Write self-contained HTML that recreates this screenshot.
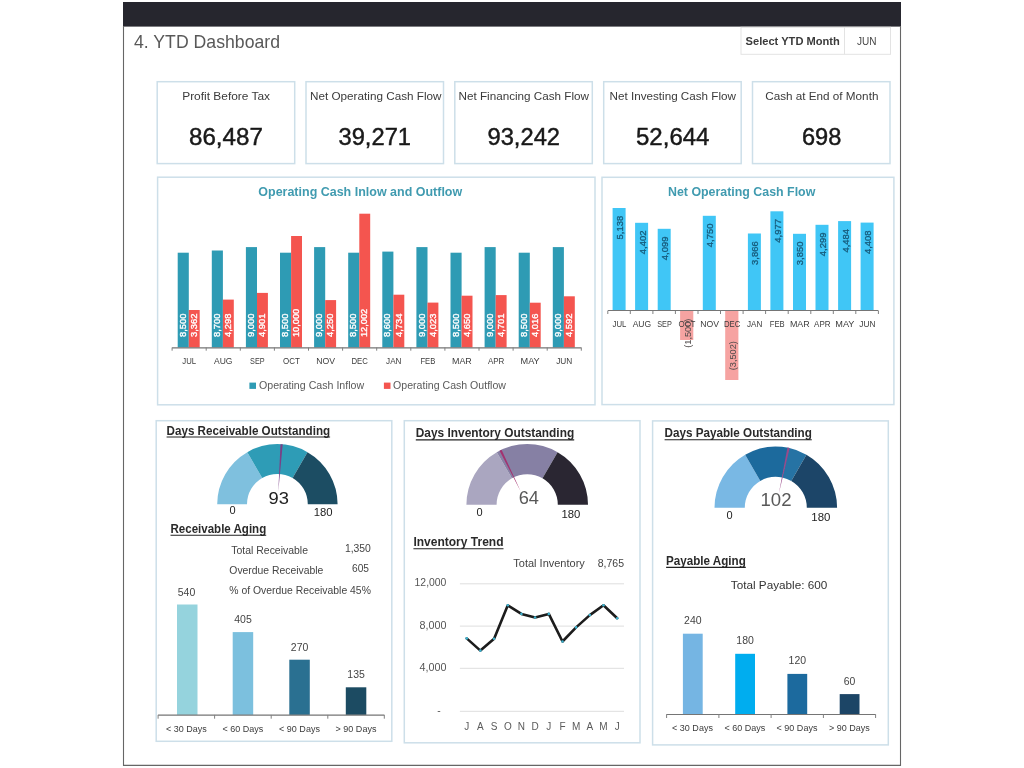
<!DOCTYPE html>
<html><head><meta charset="utf-8"><title>4. YTD Dashboard</title>
<style>
html,body{margin:0;padding:0;background:#fff;}
body{width:1024px;height:768px;overflow:hidden;font-family:"Liberation Sans",sans-serif;}
svg{display:block;font-family:"Liberation Sans",sans-serif;}
</style></head><body>
<svg width="1024" height="768" viewBox="0 0 1024 768">
<defs><filter id="soft" x="0" y="0" width="1024" height="768" filterUnits="userSpaceOnUse"><feGaussianBlur stdDeviation="0.5"/></filter></defs>
<g filter="url(#soft)">
<rect x="123.0" y="2.0" width="778.0" height="24.6" fill="#27262e" />
<line x1="123.5" y1="26.0" x2="123.5" y2="766.0" stroke="#666" stroke-width="1.1" />
<line x1="900.5" y1="26.0" x2="900.5" y2="766.0" stroke="#666" stroke-width="1.1" />
<line x1="123.0" y1="765.4" x2="901.0" y2="765.4" stroke="#666" stroke-width="1.1" />
<text x="134.0" y="48.4" font-size="17.8" fill="#595959" textLength="146.0" lengthAdjust="spacingAndGlyphs" >4. YTD Dashboard</text>
<rect x="741.0" y="27.3" width="149.5" height="27.0" fill="#fff" stroke="#e3e3e3" stroke-width="1"/>
<line x1="844.5" y1="27.3" x2="844.5" y2="54.3" stroke="#e3e3e3" stroke-width="1" />
<text x="745.6" y="45.1" font-size="11.6" font-weight="bold" fill="#3a3a3a" textLength="94.2" lengthAdjust="spacingAndGlyphs" >Select YTD Month</text>
<text x="857.0" y="44.9" font-size="11" fill="#444" textLength="19.5" lengthAdjust="spacingAndGlyphs" >JUN</text>
<rect x="157.2" y="81.7" width="137.5" height="81.9" fill="#fff" stroke="#cddfe9" stroke-width="1.5"/>
<text x="182.2" y="100.2" font-size="11.6" fill="#3a3a3a" textLength="87.9" lengthAdjust="spacingAndGlyphs" >Profit Before Tax</text>
<text x="189.0" y="145.4" font-size="23.5" fill="#1a1a1a" textLength="73.9" lengthAdjust="spacingAndGlyphs" stroke="#1a1a1a" stroke-width="0.45">86,487</text>
<rect x="306.0" y="81.7" width="137.5" height="81.9" fill="#fff" stroke="#cddfe9" stroke-width="1.5"/>
<text x="310.0" y="100.2" font-size="11.6" fill="#3a3a3a" textLength="131.5" lengthAdjust="spacingAndGlyphs" >Net Operating Cash Flow</text>
<text x="338.5" y="145.4" font-size="23.5" fill="#1a1a1a" textLength="72.5" lengthAdjust="spacingAndGlyphs" stroke="#1a1a1a" stroke-width="0.45">39,271</text>
<rect x="454.8" y="81.7" width="137.5" height="81.9" fill="#fff" stroke="#cddfe9" stroke-width="1.5"/>
<text x="458.5" y="100.2" font-size="11.6" fill="#3a3a3a" textLength="130.5" lengthAdjust="spacingAndGlyphs" >Net Financing Cash Flow</text>
<text x="487.5" y="145.4" font-size="23.5" fill="#1a1a1a" textLength="72.5" lengthAdjust="spacingAndGlyphs" stroke="#1a1a1a" stroke-width="0.45">93,242</text>
<rect x="603.7" y="81.7" width="137.5" height="81.9" fill="#fff" stroke="#cddfe9" stroke-width="1.5"/>
<text x="609.5" y="100.2" font-size="11.6" fill="#3a3a3a" textLength="126.5" lengthAdjust="spacingAndGlyphs" >Net Investing Cash Flow</text>
<text x="636.0" y="145.4" font-size="23.5" fill="#1a1a1a" textLength="73.5" lengthAdjust="spacingAndGlyphs" stroke="#1a1a1a" stroke-width="0.45">52,644</text>
<rect x="752.5" y="81.7" width="137.5" height="81.9" fill="#fff" stroke="#cddfe9" stroke-width="1.5"/>
<text x="765.2" y="100.2" font-size="11.6" fill="#3a3a3a" textLength="113.2" lengthAdjust="spacingAndGlyphs" >Cash at End of Month</text>
<text x="801.9" y="145.4" font-size="23.5" fill="#1a1a1a" textLength="39.4" lengthAdjust="spacingAndGlyphs" stroke="#1a1a1a" stroke-width="0.45">698</text>
<rect x="157.6" y="177.2" width="437.4" height="227.6" fill="#fff" stroke="#cddfe9" stroke-width="1.5"/>
<text x="258.3" y="196.1" font-size="13" font-weight="bold" fill="#419bb0" textLength="203.9" lengthAdjust="spacingAndGlyphs" >Operating Cash Inlow and Outflow</text>
<rect x="177.7" y="252.7" width="11.1" height="94.8" fill="#2f9bb4" />
<rect x="188.8" y="310.0" width="10.9" height="37.5" fill="#f4544f" />
<text transform="translate(185.8,325.3) rotate(-90)" font-size="9.3" fill="#fff" text-anchor="middle" textLength="23.4" lengthAdjust="spacingAndGlyphs" stroke="#fff" stroke-width="0.35">8,500</text>
<text transform="translate(196.9,325.3) rotate(-90)" font-size="9.3" fill="#fff" text-anchor="middle" textLength="23.4" lengthAdjust="spacingAndGlyphs" stroke="#fff" stroke-width="0.35">3,362</text>
<text x="189.2" y="363.6" font-size="9.7" fill="#3c3c3c" text-anchor="middle" textLength="13.8" lengthAdjust="spacingAndGlyphs" >JUL</text>
<rect x="211.8" y="250.5" width="11.1" height="97.0" fill="#2f9bb4" />
<rect x="222.9" y="299.6" width="10.9" height="47.9" fill="#f4544f" />
<text transform="translate(219.9,325.3) rotate(-90)" font-size="9.3" fill="#fff" text-anchor="middle" textLength="23.4" lengthAdjust="spacingAndGlyphs" stroke="#fff" stroke-width="0.35">8,700</text>
<text transform="translate(231.0,325.3) rotate(-90)" font-size="9.3" fill="#fff" text-anchor="middle" textLength="23.4" lengthAdjust="spacingAndGlyphs" stroke="#fff" stroke-width="0.35">4,298</text>
<text x="223.2" y="363.6" font-size="9.7" fill="#3c3c3c" text-anchor="middle" textLength="18.5" lengthAdjust="spacingAndGlyphs" >AUG</text>
<rect x="245.9" y="247.1" width="11.1" height="100.4" fill="#2f9bb4" />
<rect x="257.0" y="292.9" width="10.9" height="54.6" fill="#f4544f" />
<text transform="translate(254.0,325.3) rotate(-90)" font-size="9.3" fill="#fff" text-anchor="middle" textLength="23.4" lengthAdjust="spacingAndGlyphs" stroke="#fff" stroke-width="0.35">9,000</text>
<text transform="translate(265.1,325.3) rotate(-90)" font-size="9.3" fill="#fff" text-anchor="middle" textLength="23.4" lengthAdjust="spacingAndGlyphs" stroke="#fff" stroke-width="0.35">4,901</text>
<text x="257.4" y="363.6" font-size="9.7" fill="#3c3c3c" text-anchor="middle" textLength="14.6" lengthAdjust="spacingAndGlyphs" >SEP</text>
<rect x="280.0" y="252.7" width="11.1" height="94.8" fill="#2f9bb4" />
<rect x="291.1" y="236.0" width="10.9" height="111.5" fill="#f4544f" />
<text transform="translate(288.1,325.3) rotate(-90)" font-size="9.3" fill="#fff" text-anchor="middle" textLength="23.4" lengthAdjust="spacingAndGlyphs" stroke="#fff" stroke-width="0.35">8,500</text>
<text transform="translate(299.2,322.9) rotate(-90)" font-size="9.3" fill="#fff" text-anchor="middle" textLength="28.3" lengthAdjust="spacingAndGlyphs" stroke="#fff" stroke-width="0.35">10,000</text>
<text x="291.4" y="363.6" font-size="9.7" fill="#3c3c3c" text-anchor="middle" textLength="16.8" lengthAdjust="spacingAndGlyphs" >OCT</text>
<rect x="314.1" y="247.1" width="11.1" height="100.4" fill="#2f9bb4" />
<rect x="325.2" y="300.1" width="10.9" height="47.4" fill="#f4544f" />
<text transform="translate(322.2,325.3) rotate(-90)" font-size="9.3" fill="#fff" text-anchor="middle" textLength="23.4" lengthAdjust="spacingAndGlyphs" stroke="#fff" stroke-width="0.35">9,000</text>
<text transform="translate(333.3,325.3) rotate(-90)" font-size="9.3" fill="#fff" text-anchor="middle" textLength="23.4" lengthAdjust="spacingAndGlyphs" stroke="#fff" stroke-width="0.35">4,250</text>
<text x="325.6" y="363.6" font-size="9.7" fill="#3c3c3c" text-anchor="middle" textLength="18.8" lengthAdjust="spacingAndGlyphs" >NOV</text>
<rect x="348.2" y="252.7" width="11.1" height="94.8" fill="#2f9bb4" />
<rect x="359.3" y="213.7" width="10.9" height="133.8" fill="#f4544f" />
<text transform="translate(356.3,325.3) rotate(-90)" font-size="9.3" fill="#fff" text-anchor="middle" textLength="23.4" lengthAdjust="spacingAndGlyphs" stroke="#fff" stroke-width="0.35">8,500</text>
<text transform="translate(367.4,322.9) rotate(-90)" font-size="9.3" fill="#fff" text-anchor="middle" textLength="28.3" lengthAdjust="spacingAndGlyphs" stroke="#fff" stroke-width="0.35">12,002</text>
<text x="359.7" y="363.6" font-size="9.7" fill="#3c3c3c" text-anchor="middle" textLength="16.4" lengthAdjust="spacingAndGlyphs" >DEC</text>
<rect x="382.3" y="251.6" width="11.1" height="95.9" fill="#2f9bb4" />
<rect x="393.4" y="294.7" width="10.9" height="52.8" fill="#f4544f" />
<text transform="translate(390.4,325.3) rotate(-90)" font-size="9.3" fill="#fff" text-anchor="middle" textLength="23.4" lengthAdjust="spacingAndGlyphs" stroke="#fff" stroke-width="0.35">8,600</text>
<text transform="translate(401.5,325.3) rotate(-90)" font-size="9.3" fill="#fff" text-anchor="middle" textLength="23.4" lengthAdjust="spacingAndGlyphs" stroke="#fff" stroke-width="0.35">4,734</text>
<text x="393.8" y="363.6" font-size="9.7" fill="#3c3c3c" text-anchor="middle" textLength="15.4" lengthAdjust="spacingAndGlyphs" >JAN</text>
<rect x="416.4" y="247.1" width="11.1" height="100.4" fill="#2f9bb4" />
<rect x="427.5" y="302.6" width="10.9" height="44.9" fill="#f4544f" />
<text transform="translate(424.5,325.3) rotate(-90)" font-size="9.3" fill="#fff" text-anchor="middle" textLength="23.4" lengthAdjust="spacingAndGlyphs" stroke="#fff" stroke-width="0.35">9,000</text>
<text transform="translate(435.6,325.3) rotate(-90)" font-size="9.3" fill="#fff" text-anchor="middle" textLength="23.4" lengthAdjust="spacingAndGlyphs" stroke="#fff" stroke-width="0.35">4,023</text>
<text x="427.9" y="363.6" font-size="9.7" fill="#3c3c3c" text-anchor="middle" textLength="14.9" lengthAdjust="spacingAndGlyphs" >FEB</text>
<rect x="450.5" y="252.7" width="11.1" height="94.8" fill="#2f9bb4" />
<rect x="461.6" y="295.7" width="10.9" height="51.8" fill="#f4544f" />
<text transform="translate(458.6,325.3) rotate(-90)" font-size="9.3" fill="#fff" text-anchor="middle" textLength="23.4" lengthAdjust="spacingAndGlyphs" stroke="#fff" stroke-width="0.35">8,500</text>
<text transform="translate(469.7,325.3) rotate(-90)" font-size="9.3" fill="#fff" text-anchor="middle" textLength="23.4" lengthAdjust="spacingAndGlyphs" stroke="#fff" stroke-width="0.35">4,650</text>
<text x="461.9" y="363.6" font-size="9.7" fill="#3c3c3c" text-anchor="middle" textLength="19.8" lengthAdjust="spacingAndGlyphs" >MAR</text>
<rect x="484.6" y="247.1" width="11.1" height="100.4" fill="#2f9bb4" />
<rect x="495.7" y="295.1" width="10.9" height="52.4" fill="#f4544f" />
<text transform="translate(492.7,325.3) rotate(-90)" font-size="9.3" fill="#fff" text-anchor="middle" textLength="23.4" lengthAdjust="spacingAndGlyphs" stroke="#fff" stroke-width="0.35">9,000</text>
<text transform="translate(503.8,325.3) rotate(-90)" font-size="9.3" fill="#fff" text-anchor="middle" textLength="23.4" lengthAdjust="spacingAndGlyphs" stroke="#fff" stroke-width="0.35">4,701</text>
<text x="496.1" y="363.6" font-size="9.7" fill="#3c3c3c" text-anchor="middle" textLength="16.4" lengthAdjust="spacingAndGlyphs" >APR</text>
<rect x="518.7" y="252.7" width="11.1" height="94.8" fill="#2f9bb4" />
<rect x="529.8" y="302.7" width="10.9" height="44.8" fill="#f4544f" />
<text transform="translate(526.8,325.3) rotate(-90)" font-size="9.3" fill="#fff" text-anchor="middle" textLength="23.4" lengthAdjust="spacingAndGlyphs" stroke="#fff" stroke-width="0.35">8,500</text>
<text transform="translate(537.9,325.3) rotate(-90)" font-size="9.3" fill="#fff" text-anchor="middle" textLength="23.4" lengthAdjust="spacingAndGlyphs" stroke="#fff" stroke-width="0.35">4,016</text>
<text x="530.1" y="363.6" font-size="9.7" fill="#3c3c3c" text-anchor="middle" textLength="19.2" lengthAdjust="spacingAndGlyphs" >MAY</text>
<rect x="552.8" y="247.1" width="11.1" height="100.4" fill="#2f9bb4" />
<rect x="563.9" y="296.3" width="10.9" height="51.2" fill="#f4544f" />
<text transform="translate(560.9,325.3) rotate(-90)" font-size="9.3" fill="#fff" text-anchor="middle" textLength="23.4" lengthAdjust="spacingAndGlyphs" stroke="#fff" stroke-width="0.35">9,000</text>
<text transform="translate(572.0,325.3) rotate(-90)" font-size="9.3" fill="#fff" text-anchor="middle" textLength="23.4" lengthAdjust="spacingAndGlyphs" stroke="#fff" stroke-width="0.35">4,592</text>
<text x="564.2" y="363.6" font-size="9.7" fill="#3c3c3c" text-anchor="middle" textLength="16.1" lengthAdjust="spacingAndGlyphs" >JUN</text>
<line x1="172.1" y1="347.8" x2="581.3" y2="347.8" stroke="#757575" stroke-width="1.2" />
<line x1="172.1" y1="347.5" x2="172.1" y2="350.7" stroke="#808080" stroke-width="1" />
<line x1="206.2" y1="347.5" x2="206.2" y2="350.7" stroke="#808080" stroke-width="1" />
<line x1="240.3" y1="347.5" x2="240.3" y2="350.7" stroke="#808080" stroke-width="1" />
<line x1="274.4" y1="347.5" x2="274.4" y2="350.7" stroke="#808080" stroke-width="1" />
<line x1="308.5" y1="347.5" x2="308.5" y2="350.7" stroke="#808080" stroke-width="1" />
<line x1="342.6" y1="347.5" x2="342.6" y2="350.7" stroke="#808080" stroke-width="1" />
<line x1="376.7" y1="347.5" x2="376.7" y2="350.7" stroke="#808080" stroke-width="1" />
<line x1="410.8" y1="347.5" x2="410.8" y2="350.7" stroke="#808080" stroke-width="1" />
<line x1="444.9" y1="347.5" x2="444.9" y2="350.7" stroke="#808080" stroke-width="1" />
<line x1="479.0" y1="347.5" x2="479.0" y2="350.7" stroke="#808080" stroke-width="1" />
<line x1="513.1" y1="347.5" x2="513.1" y2="350.7" stroke="#808080" stroke-width="1" />
<line x1="547.2" y1="347.5" x2="547.2" y2="350.7" stroke="#808080" stroke-width="1" />
<line x1="581.3" y1="347.5" x2="581.3" y2="350.7" stroke="#808080" stroke-width="1" />
<rect x="249.4" y="382.6" width="6.6" height="6.3" fill="#2f9bb4" />
<text x="259.0" y="389.0" font-size="10.9" fill="#5a5a5a" textLength="105.2" lengthAdjust="spacingAndGlyphs" >Operating Cash Inflow</text>
<rect x="383.9" y="382.6" width="6.6" height="6.3" fill="#f4544f" />
<text x="393.1" y="389.0" font-size="10.9" fill="#5a5a5a" textLength="112.9" lengthAdjust="spacingAndGlyphs" >Operating Cash Outflow</text>
<rect x="602.0" y="177.3" width="291.9" height="227.3" fill="#fff" stroke="#cddfe9" stroke-width="1.5"/>
<text x="668.0" y="196.1" font-size="13" font-weight="bold" fill="#419bb0" textLength="147.3" lengthAdjust="spacingAndGlyphs" >Net Operating Cash Flow</text>
<rect x="612.6" y="208.0" width="13.0" height="102.8" fill="#40c6f6" />
<text transform="translate(623.0,227.6) rotate(-90)" font-size="9.3" fill="#175a7a" text-anchor="middle" textLength="23.6" lengthAdjust="spacingAndGlyphs" stroke="#175a7a" stroke-width="0.3">5,138</text>
<rect x="635.1" y="222.8" width="13.0" height="88.0" fill="#40c6f6" />
<text transform="translate(645.6,242.4) rotate(-90)" font-size="9.3" fill="#175a7a" text-anchor="middle" textLength="23.6" lengthAdjust="spacingAndGlyphs" stroke="#175a7a" stroke-width="0.3">4,402</text>
<rect x="657.7" y="228.8" width="13.0" height="82.0" fill="#40c6f6" />
<text transform="translate(668.1,248.4) rotate(-90)" font-size="9.3" fill="#175a7a" text-anchor="middle" textLength="23.6" lengthAdjust="spacingAndGlyphs" stroke="#175a7a" stroke-width="0.3">4,099</text>
<rect x="680.1" y="310.4" width="13.2" height="29.6" fill="#f6a3a1" />
<rect x="702.8" y="215.8" width="13.0" height="95.0" fill="#40c6f6" />
<text transform="translate(713.2,235.4) rotate(-90)" font-size="9.3" fill="#175a7a" text-anchor="middle" textLength="23.6" lengthAdjust="spacingAndGlyphs" stroke="#175a7a" stroke-width="0.3">4,750</text>
<rect x="725.2" y="310.4" width="13.2" height="69.6" fill="#f6a3a1" />
<rect x="747.9" y="233.5" width="13.0" height="77.3" fill="#40c6f6" />
<text transform="translate(758.3,253.1) rotate(-90)" font-size="9.3" fill="#175a7a" text-anchor="middle" textLength="23.6" lengthAdjust="spacingAndGlyphs" stroke="#175a7a" stroke-width="0.3">3,866</text>
<rect x="770.4" y="211.3" width="13.0" height="99.5" fill="#40c6f6" />
<text transform="translate(780.9,230.9) rotate(-90)" font-size="9.3" fill="#175a7a" text-anchor="middle" textLength="23.6" lengthAdjust="spacingAndGlyphs" stroke="#175a7a" stroke-width="0.3">4,977</text>
<rect x="793.0" y="233.8" width="13.0" height="77.0" fill="#40c6f6" />
<text transform="translate(803.4,253.4) rotate(-90)" font-size="9.3" fill="#175a7a" text-anchor="middle" textLength="23.6" lengthAdjust="spacingAndGlyphs" stroke="#175a7a" stroke-width="0.3">3,850</text>
<rect x="815.5" y="224.8" width="13.0" height="86.0" fill="#40c6f6" />
<text transform="translate(826.0,244.4) rotate(-90)" font-size="9.3" fill="#175a7a" text-anchor="middle" textLength="23.6" lengthAdjust="spacingAndGlyphs" stroke="#175a7a" stroke-width="0.3">4,299</text>
<rect x="838.1" y="221.1" width="13.0" height="89.7" fill="#40c6f6" />
<text transform="translate(848.5,240.7) rotate(-90)" font-size="9.3" fill="#175a7a" text-anchor="middle" textLength="23.6" lengthAdjust="spacingAndGlyphs" stroke="#175a7a" stroke-width="0.3">4,484</text>
<rect x="860.6" y="222.6" width="13.0" height="88.2" fill="#40c6f6" />
<text transform="translate(871.1,242.2) rotate(-90)" font-size="9.3" fill="#175a7a" text-anchor="middle" textLength="23.6" lengthAdjust="spacingAndGlyphs" stroke="#175a7a" stroke-width="0.3">4,408</text>
<text x="619.4" y="326.7" font-size="9.7" fill="#3c3c3c" text-anchor="middle" textLength="13.8" lengthAdjust="spacingAndGlyphs" >JUL</text>
<text x="641.9" y="326.7" font-size="9.7" fill="#3c3c3c" text-anchor="middle" textLength="18.5" lengthAdjust="spacingAndGlyphs" >AUG</text>
<text x="664.5" y="326.7" font-size="9.7" fill="#3c3c3c" text-anchor="middle" textLength="14.6" lengthAdjust="spacingAndGlyphs" >SEP</text>
<text x="687.0" y="326.7" font-size="9.7" fill="#3c3c3c" text-anchor="middle" textLength="16.8" lengthAdjust="spacingAndGlyphs" >OCT</text>
<text x="709.6" y="326.7" font-size="9.7" fill="#3c3c3c" text-anchor="middle" textLength="18.8" lengthAdjust="spacingAndGlyphs" >NOV</text>
<text x="732.1" y="326.7" font-size="9.7" fill="#3c3c3c" text-anchor="middle" textLength="16.4" lengthAdjust="spacingAndGlyphs" >DEC</text>
<text x="754.7" y="326.7" font-size="9.7" fill="#3c3c3c" text-anchor="middle" textLength="15.4" lengthAdjust="spacingAndGlyphs" >JAN</text>
<text x="777.2" y="326.7" font-size="9.7" fill="#3c3c3c" text-anchor="middle" textLength="14.9" lengthAdjust="spacingAndGlyphs" >FEB</text>
<text x="799.8" y="326.7" font-size="9.7" fill="#3c3c3c" text-anchor="middle" textLength="19.8" lengthAdjust="spacingAndGlyphs" >MAR</text>
<text x="822.3" y="326.7" font-size="9.7" fill="#3c3c3c" text-anchor="middle" textLength="16.4" lengthAdjust="spacingAndGlyphs" >APR</text>
<text x="844.9" y="326.7" font-size="9.7" fill="#3c3c3c" text-anchor="middle" textLength="19.2" lengthAdjust="spacingAndGlyphs" >MAY</text>
<text x="867.4" y="326.7" font-size="9.7" fill="#3c3c3c" text-anchor="middle" textLength="16.1" lengthAdjust="spacingAndGlyphs" >JUN</text>
<text transform="translate(691.0,333.2) rotate(-90)" font-size="9.3" fill="#4f4a4a" text-anchor="middle" textLength="29.2" lengthAdjust="spacingAndGlyphs">(1,500)</text>
<text transform="translate(736.2,355.7) rotate(-90)" font-size="9.3" fill="#4f4a4a" text-anchor="middle" textLength="29.2" lengthAdjust="spacingAndGlyphs">(3,502)</text>
<line x1="607.8" y1="310.5" x2="878.4" y2="310.5" stroke="#757575" stroke-width="1.2" />
<line x1="607.8" y1="310.8" x2="607.8" y2="314.0" stroke="#808080" stroke-width="1" />
<line x1="630.3" y1="310.8" x2="630.3" y2="314.0" stroke="#808080" stroke-width="1" />
<line x1="652.9" y1="310.8" x2="652.9" y2="314.0" stroke="#808080" stroke-width="1" />
<line x1="675.4" y1="310.8" x2="675.4" y2="314.0" stroke="#808080" stroke-width="1" />
<line x1="698.0" y1="310.8" x2="698.0" y2="314.0" stroke="#808080" stroke-width="1" />
<line x1="720.5" y1="310.8" x2="720.5" y2="314.0" stroke="#808080" stroke-width="1" />
<line x1="743.1" y1="310.8" x2="743.1" y2="314.0" stroke="#808080" stroke-width="1" />
<line x1="765.6" y1="310.8" x2="765.6" y2="314.0" stroke="#808080" stroke-width="1" />
<line x1="788.2" y1="310.8" x2="788.2" y2="314.0" stroke="#808080" stroke-width="1" />
<line x1="810.8" y1="310.8" x2="810.8" y2="314.0" stroke="#808080" stroke-width="1" />
<line x1="833.3" y1="310.8" x2="833.3" y2="314.0" stroke="#808080" stroke-width="1" />
<line x1="855.8" y1="310.8" x2="855.8" y2="314.0" stroke="#808080" stroke-width="1" />
<line x1="878.4" y1="310.8" x2="878.4" y2="314.0" stroke="#808080" stroke-width="1" />
<rect x="156.2" y="420.7" width="235.6" height="320.6" fill="#fff" stroke="#cddfe9" stroke-width="1.5"/>
<text x="166.6" y="434.8" font-size="12.3" font-weight="bold" fill="#2a2a2a" textLength="163.5" lengthAdjust="spacingAndGlyphs" >Days Receivable Outstanding</text>
<line x1="166.6" y1="437.0" x2="330.1" y2="437.0" stroke="#222" stroke-width="1.1" />
<path d="M217.20,504.30 A60.2,60.2 0 0 1 247.30,452.17 L262.20,477.97 A30.4,30.4 0 0 0 247.00,504.30 Z" fill="#7fc0de"/>
<path d="M247.30,452.17 A60.2,60.2 0 0 1 307.50,452.17 L292.60,477.97 A30.4,30.4 0 0 0 262.20,477.97 Z" fill="#2f9cb6"/>
<path d="M307.50,452.17 A60.2,60.2 0 0 1 337.60,504.30 L307.80,504.30 A30.4,30.4 0 0 0 292.60,477.97 Z" fill="#1c4e64"/>
<path d="M280.50,444.17 L282.70,444.32 L278.31,491.33 Z" fill="#7a3f86"/>
<text x="268.6" y="504.2" font-size="17" fill="#222" textLength="20.4" lengthAdjust="spacingAndGlyphs" >93</text>
<text x="232.6" y="514.2" font-size="11" fill="#222" text-anchor="middle" >0</text>
<text x="313.7" y="515.5" font-size="11" fill="#222" textLength="18.9" lengthAdjust="spacingAndGlyphs" >180</text>
<text x="170.5" y="533.1" font-size="12.3" font-weight="bold" fill="#2a2a2a" textLength="95.7" lengthAdjust="spacingAndGlyphs" >Receivable Aging</text>
<line x1="170.5" y1="535.2" x2="266.2" y2="535.2" stroke="#222" stroke-width="1.1" />
<text x="231.3" y="553.8" font-size="10.3" fill="#444" textLength="76.7" lengthAdjust="spacingAndGlyphs" >Total Receivable</text>
<text x="344.9" y="551.7" font-size="10.3" fill="#444" textLength="26.0" lengthAdjust="spacingAndGlyphs" >1,350</text>
<text x="229.3" y="573.7" font-size="10.3" fill="#444" textLength="94.1" lengthAdjust="spacingAndGlyphs" >Overdue Receivable</text>
<text x="352.0" y="571.7" font-size="10.3" fill="#444" textLength="17.0" lengthAdjust="spacingAndGlyphs" >605</text>
<text x="229.3" y="593.9" font-size="10.3" fill="#444" textLength="141.6" lengthAdjust="spacingAndGlyphs" >% of Overdue Receivable 45%</text>
<rect x="177.0" y="604.5" width="20.5" height="110.4" fill="#95d3dd" />
<text x="186.5" y="595.6" font-size="10.3" fill="#444" text-anchor="middle" textLength="17.5" lengthAdjust="spacingAndGlyphs" >540</text>
<text x="186.4" y="732.3" font-size="9.6" fill="#3c3c3c" text-anchor="middle" textLength="40.8" lengthAdjust="spacingAndGlyphs" >&lt; 30 Days</text>
<rect x="232.7" y="632.1" width="20.5" height="82.8" fill="#7cc0de" />
<text x="243.0" y="623.2" font-size="10.3" fill="#444" text-anchor="middle" textLength="17.5" lengthAdjust="spacingAndGlyphs" >405</text>
<text x="242.9" y="732.3" font-size="9.6" fill="#3c3c3c" text-anchor="middle" textLength="40.8" lengthAdjust="spacingAndGlyphs" >&lt; 60 Days</text>
<rect x="289.3" y="659.7" width="20.5" height="55.2" fill="#2b6f91" />
<text x="299.6" y="650.8" font-size="10.3" fill="#444" text-anchor="middle" textLength="17.5" lengthAdjust="spacingAndGlyphs" >270</text>
<text x="299.5" y="732.3" font-size="9.6" fill="#3c3c3c" text-anchor="middle" textLength="40.8" lengthAdjust="spacingAndGlyphs" >&lt; 90 Days</text>
<rect x="345.8" y="687.3" width="20.5" height="27.6" fill="#1c4b62" />
<text x="356.1" y="678.4" font-size="10.3" fill="#444" text-anchor="middle" textLength="17.5" lengthAdjust="spacingAndGlyphs" >135</text>
<text x="356.0" y="732.3" font-size="9.6" fill="#3c3c3c" text-anchor="middle" textLength="40.8" lengthAdjust="spacingAndGlyphs" >&gt; 90 Days</text>
<line x1="158.1" y1="715.2" x2="384.3" y2="715.2" stroke="#757575" stroke-width="1.2" />
<line x1="158.1" y1="714.9" x2="158.1" y2="718.7" stroke="#808080" stroke-width="1" />
<line x1="214.6" y1="714.9" x2="214.6" y2="718.7" stroke="#808080" stroke-width="1" />
<line x1="271.2" y1="714.9" x2="271.2" y2="718.7" stroke="#808080" stroke-width="1" />
<line x1="327.8" y1="714.9" x2="327.8" y2="718.7" stroke="#808080" stroke-width="1" />
<line x1="384.3" y1="714.9" x2="384.3" y2="718.7" stroke="#808080" stroke-width="1" />
<rect x="404.3" y="420.7" width="235.7" height="322.1" fill="#fff" stroke="#cddfe9" stroke-width="1.5"/>
<text x="415.8" y="437.3" font-size="12.3" font-weight="bold" fill="#2a2a2a" textLength="158.4" lengthAdjust="spacingAndGlyphs" >Days Inventory Outstanding</text>
<line x1="415.8" y1="439.9" x2="574.2" y2="439.9" stroke="#222" stroke-width="1.1" />
<path d="M466.40,504.80 A60.8,60.8 0 0 1 496.80,452.15 L511.90,478.30 A30.6,30.6 0 0 0 496.60,504.80 Z" fill="#aaa6c0"/>
<path d="M496.80,452.15 A60.8,60.8 0 0 1 557.60,452.15 L542.50,478.30 A30.6,30.6 0 0 0 511.90,478.30 Z" fill="#8680a4"/>
<path d="M557.60,452.15 A60.8,60.8 0 0 1 588.00,504.80 L557.80,504.80 A30.6,30.6 0 0 0 542.50,478.30 Z" fill="#2a2833"/>
<path d="M499.56,450.64 L501.54,449.67 L520.62,491.32 Z" fill="#a3306f"/>
<text x="518.7" y="503.8" font-size="17.5" fill="#595959" textLength="20.3" lengthAdjust="spacingAndGlyphs" >64</text>
<text x="479.5" y="516.2" font-size="11" fill="#222" text-anchor="middle" >0</text>
<text x="561.5" y="518.4" font-size="11" fill="#222" textLength="18.9" lengthAdjust="spacingAndGlyphs" >180</text>
<text x="413.4" y="546.2" font-size="12.3" font-weight="bold" fill="#2a2a2a" textLength="90.1" lengthAdjust="spacingAndGlyphs" >Inventory Trend</text>
<line x1="413.4" y1="548.8" x2="503.5" y2="548.8" stroke="#222" stroke-width="1.1" />
<text x="513.3" y="567.2" font-size="10.3" fill="#444" textLength="71.5" lengthAdjust="spacingAndGlyphs" >Total Inventory</text>
<text x="597.7" y="566.9" font-size="10.3" fill="#444" textLength="26.3" lengthAdjust="spacingAndGlyphs" >8,765</text>
<line x1="459.9" y1="583.8" x2="624.0" y2="583.8" stroke="#dedede" stroke-width="1" />
<text x="414.6" y="586.3" font-size="10.3" fill="#555" textLength="31.8" lengthAdjust="spacingAndGlyphs" >12,000</text>
<line x1="459.9" y1="626.1" x2="624.0" y2="626.1" stroke="#dedede" stroke-width="1" />
<text x="419.5" y="628.6" font-size="10.3" fill="#555" textLength="26.9" lengthAdjust="spacingAndGlyphs" >8,000</text>
<line x1="459.9" y1="668.3" x2="624.0" y2="668.3" stroke="#dedede" stroke-width="1" />
<text x="419.5" y="670.8" font-size="10.3" fill="#555" textLength="26.9" lengthAdjust="spacingAndGlyphs" >4,000</text>
<line x1="459.9" y1="711.3" x2="624.0" y2="711.3" stroke="#dedede" stroke-width="1" />
<text x="439.0" y="713.5" font-size="10.3" fill="#555" text-anchor="middle" >-</text>
<polyline fill="none" stroke="#1b1b1b" stroke-width="2.6" stroke-linejoin="round" stroke-linecap="round" points="466.7,638.4 480.4,650.6 494.1,638.8 507.8,605.3 521.4,613.9 535.1,617.5 548.8,613.9 562.5,641.5 576.1,627.4 589.8,615.1 603.5,605.3 617.2,618.2"/>
<circle cx="466.7" cy="638.4" r="1.3" fill="#3fb3cf"/>
<circle cx="480.4" cy="650.6" r="1.3" fill="#3fb3cf"/>
<circle cx="494.1" cy="638.8" r="1.3" fill="#3fb3cf"/>
<circle cx="507.8" cy="605.3" r="1.3" fill="#3fb3cf"/>
<circle cx="521.4" cy="613.9" r="1.3" fill="#3fb3cf"/>
<circle cx="535.1" cy="617.5" r="1.3" fill="#3fb3cf"/>
<circle cx="548.8" cy="613.9" r="1.3" fill="#3fb3cf"/>
<circle cx="562.5" cy="641.5" r="1.3" fill="#3fb3cf"/>
<circle cx="576.1" cy="627.4" r="1.3" fill="#3fb3cf"/>
<circle cx="589.8" cy="615.1" r="1.3" fill="#3fb3cf"/>
<circle cx="603.5" cy="605.3" r="1.3" fill="#3fb3cf"/>
<circle cx="617.2" cy="618.2" r="1.3" fill="#3fb3cf"/>
<text x="466.7" y="729.6" font-size="10" fill="#5a5a5a" text-anchor="middle" >J</text>
<text x="480.4" y="729.6" font-size="10" fill="#5a5a5a" text-anchor="middle" >A</text>
<text x="494.1" y="729.6" font-size="10" fill="#5a5a5a" text-anchor="middle" >S</text>
<text x="507.8" y="729.6" font-size="10" fill="#5a5a5a" text-anchor="middle" >O</text>
<text x="521.4" y="729.6" font-size="10" fill="#5a5a5a" text-anchor="middle" >N</text>
<text x="535.1" y="729.6" font-size="10" fill="#5a5a5a" text-anchor="middle" >D</text>
<text x="548.8" y="729.6" font-size="10" fill="#5a5a5a" text-anchor="middle" >J</text>
<text x="562.5" y="729.6" font-size="10" fill="#5a5a5a" text-anchor="middle" >F</text>
<text x="576.1" y="729.6" font-size="10" fill="#5a5a5a" text-anchor="middle" >M</text>
<text x="589.8" y="729.6" font-size="10" fill="#5a5a5a" text-anchor="middle" >A</text>
<text x="603.5" y="729.6" font-size="10" fill="#5a5a5a" text-anchor="middle" >M</text>
<text x="617.2" y="729.6" font-size="10" fill="#5a5a5a" text-anchor="middle" >J</text>
<rect x="652.6" y="420.9" width="235.7" height="324.0" fill="#fff" stroke="#cddfe9" stroke-width="1.5"/>
<text x="664.6" y="437.3" font-size="12.3" font-weight="bold" fill="#2a2a2a" textLength="147.2" lengthAdjust="spacingAndGlyphs" >Days Payable Outstanding</text>
<line x1="664.6" y1="439.7" x2="811.8" y2="439.7" stroke="#222" stroke-width="1.1" />
<path d="M714.50,507.80 A61.3,61.3 0 0 1 745.15,454.71 L760.30,480.95 A31,31 0 0 0 744.80,507.80 Z" fill="#79b8e4"/>
<path d="M745.15,454.71 A61.3,61.3 0 0 1 788.54,447.84 L782.25,477.48 A31,31 0 0 0 760.30,480.95 Z" fill="#1f6a9d"/>
<path d="M788.54,447.84 A61.3,61.3 0 0 1 806.45,454.71 L791.30,480.95 A31,31 0 0 0 782.25,477.48 Z" fill="#2873a4"/>
<path d="M806.45,454.71 A61.3,61.3 0 0 1 837.10,507.80 L806.80,507.80 A31,31 0 0 0 791.30,480.95 Z" fill="#1a4567"/>
<path d="M787.47,447.61 L789.62,448.07 L778.92,493.13 Z" fill="#9a4a8a"/>
<text x="760.5" y="506.3" font-size="17.5" fill="#595959" textLength="31.0" lengthAdjust="spacingAndGlyphs" >102</text>
<text x="729.6" y="519.3" font-size="11" fill="#222" text-anchor="middle" >0</text>
<text x="811.3" y="521.3" font-size="11" fill="#222" textLength="19.1" lengthAdjust="spacingAndGlyphs" >180</text>
<text x="666.1" y="564.9" font-size="12.3" font-weight="bold" fill="#2a2a2a" textLength="79.7" lengthAdjust="spacingAndGlyphs" >Payable Aging</text>
<line x1="666.1" y1="567.4" x2="745.8" y2="567.4" stroke="#222" stroke-width="1.1" />
<text x="730.8" y="589.0" font-size="11.3" fill="#333" textLength="96.5" lengthAdjust="spacingAndGlyphs" >Total Payable: 600</text>
<rect x="682.9" y="633.7" width="19.8" height="80.5" fill="#75b5e3" />
<text x="692.8" y="624.1" font-size="10.3" fill="#444" text-anchor="middle" textLength="17.5" lengthAdjust="spacingAndGlyphs" >240</text>
<text x="692.5" y="731.3" font-size="9.6" fill="#3c3c3c" text-anchor="middle" textLength="40.8" lengthAdjust="spacingAndGlyphs" >&lt; 30 Days</text>
<rect x="735.2" y="653.8" width="19.8" height="60.4" fill="#00adef" />
<text x="745.1" y="644.2" font-size="10.3" fill="#444" text-anchor="middle" textLength="17.5" lengthAdjust="spacingAndGlyphs" >180</text>
<text x="744.8" y="731.3" font-size="9.6" fill="#3c3c3c" text-anchor="middle" textLength="40.8" lengthAdjust="spacingAndGlyphs" >&lt; 60 Days</text>
<rect x="787.4" y="673.9" width="19.8" height="40.3" fill="#1f6a9e" />
<text x="797.3" y="664.3" font-size="10.3" fill="#444" text-anchor="middle" textLength="17.5" lengthAdjust="spacingAndGlyphs" >120</text>
<text x="797.0" y="731.3" font-size="9.6" fill="#3c3c3c" text-anchor="middle" textLength="40.8" lengthAdjust="spacingAndGlyphs" >&lt; 90 Days</text>
<rect x="839.7" y="694.1" width="19.8" height="20.1" fill="#1a4466" />
<text x="849.6" y="684.5" font-size="10.3" fill="#444" text-anchor="middle" textLength="11.6" lengthAdjust="spacingAndGlyphs" >60</text>
<text x="849.3" y="731.3" font-size="9.6" fill="#3c3c3c" text-anchor="middle" textLength="40.8" lengthAdjust="spacingAndGlyphs" >&gt; 90 Days</text>
<line x1="666.6" y1="714.5" x2="875.6" y2="714.5" stroke="#757575" stroke-width="1.2" />
<line x1="666.6" y1="714.2" x2="666.6" y2="718.0" stroke="#808080" stroke-width="1" />
<line x1="718.9" y1="714.2" x2="718.9" y2="718.0" stroke="#808080" stroke-width="1" />
<line x1="771.1" y1="714.2" x2="771.1" y2="718.0" stroke="#808080" stroke-width="1" />
<line x1="823.4" y1="714.2" x2="823.4" y2="718.0" stroke="#808080" stroke-width="1" />
<line x1="875.6" y1="714.2" x2="875.6" y2="718.0" stroke="#808080" stroke-width="1" />
</g>
</svg>
</body></html>
